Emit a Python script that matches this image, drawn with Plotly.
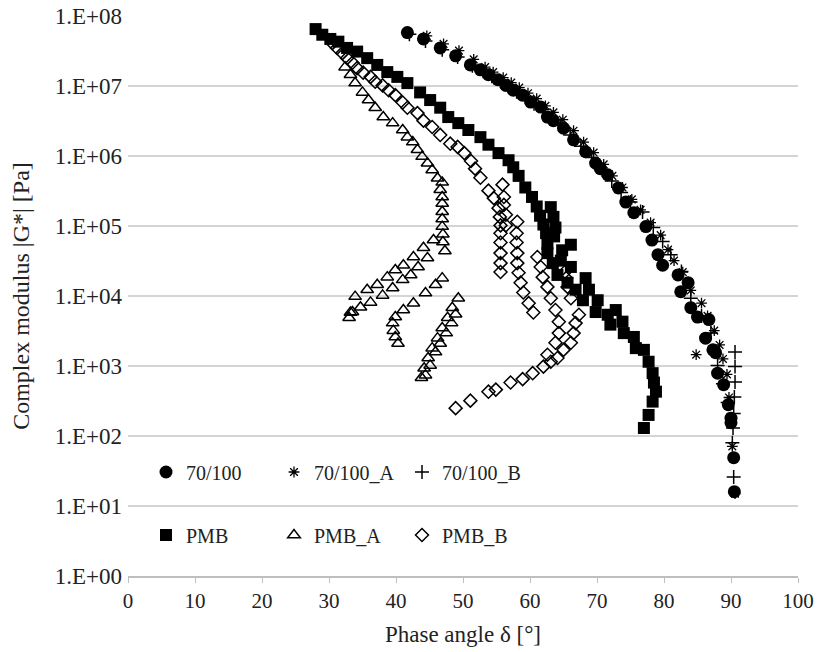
import plotly.graph_objects as go

# ---------------- data (phase angle in degrees, |G*| in Pa) ----------------
b70_x = [41.7, 44.1, 46.6, 48.9, 51.1, 52.6, 53.8, 55.2, 56.4, 57.5, 58.9, 60.1, 61.6, 62.6, 63.5,
         65.0, 66.5, 68.3, 69.8, 70.5, 71.6, 73.2, 74.3, 75.5, 77.3, 78.2, 79.1, 79.8, 82.1, 83.6,
         82.5, 84.0, 85.0, 86.7, 86.2, 87.3, 87.7, 88.0, 88.9, 89.6, 90.0, 90.0, 90.4, 90.5]
b70_y = [5.8e7, 4.7e7, 3.5e7, 2.7e7, 2.0e7, 1.7e7, 1.45e7, 1.23e7, 1.02e7, 8.7e6, 7.4e6, 5.9e6, 5.0e6,
         3.6e6, 3.2e6, 2.5e6, 1.7e6, 1.15e6, 7.9e5, 6.6e5, 5.4e5, 3.5e5, 2.2e5, 1.55e5, 9.8e4, 6.3e4,
         3.9e4, 2.75e4, 2.0e4, 1.55e4, 1.15e4, 6.8e3, 5.0e3, 4.6e3, 2.5e3, 1.7e3, 1.55e3, 7.9e2, 5.4e2,
         2.8e2, 1.8e2, 1.55e2, 4.9e1, 1.6e1]

b70a_x = [44.6, 47.1, 49.4, 51.6, 53.3, 54.5, 56.0, 57.2, 58.4, 59.7, 61.0, 62.3, 63.5, 64.9, 66.5,
          68.0, 69.5, 71.0, 72.3, 73.8, 75.2, 76.5, 78.0, 79.5, 80.6, 81.5, 82.8, 84.8, 84.0, 85.6,
          86.5, 87.5, 88.3, 88.8, 89.4, 89.7, 90.0, 90.2, 90.6]
b70a_y = [5.2e7, 4.0e7, 3.2e7, 2.4e7, 1.86e7, 1.58e7, 1.32e7, 1.12e7, 9.5e6, 7.9e6, 6.6e6, 5.2e6, 4.2e6,
          3.3e6, 2.3e6, 1.58e6, 1.12e6, 7.6e5, 5.2e5, 3.55e5, 2.4e5, 1.7e5, 1.12e5, 7.4e4, 4.6e4,
          3.2e4, 2.2e4, 1.45e3, 1.2e4, 7.9e3, 5.2e3, 3.2e3, 2.0e3, 1.26e3, 7.6e2, 3.55e2, 1.8e2, 7.1e1, 1.5e1]

b70b_x = [42.0, 44.4, 46.9, 49.2, 51.4, 53.0, 54.3, 55.6, 56.8, 58.0, 59.3, 60.6, 61.9, 63.2, 64.6,
          66.0, 67.6, 69.2, 70.8, 72.2, 73.6, 75.0, 76.8, 78.4, 79.8, 81.0, 82.6, 84.0, 85.6, 87.0,
          88.0, 88.8, 89.5, 90.6, 90.6, 90.6, 90.5, 90.4, 90.3, 90.2, 90.4]
b70b_y = [5.5e7, 4.4e7, 3.3e7, 2.6e7, 1.95e7, 1.62e7, 1.38e7, 1.17e7, 1.0e7, 8.3e6, 6.9e6, 5.6e6, 4.6e6,
          3.55e6, 2.75e6, 2.0e6, 1.38e6, 9.5e5, 6.3e5, 4.4e5, 3.0e5, 2.2e5, 1.58e5, 9.5e4, 6.0e4, 3.9e4,
          2.24e4, 9.3e3, 5.2e3, 2.95e3, 1.02e3, 5.6e2, 3.0e2, 1.58e3, 9.8e2, 5.9e2, 3.6e2, 2.1e2, 1.3e2,
          80, 26]

pmb_x = [28.0, 29.0, 30.2, 31.4, 32.7, 34.2, 35.7, 37.2, 38.7, 40.2, 41.7, 43.6, 45.1, 46.6, 47.8,
         49.3, 50.8, 52.6, 53.8, 55.3, 56.8, 57.5, 58.3, 59.3, 60.3, 61.0, 61.5, 62.0, 62.4, 62.6,
         62.6, 63.1, 63.5, 63.8, 63.6, 63.4, 64.1, 64.6, 64.8, 66.1, 66.1, 65.6, 66.8, 68.3, 68.8,
         67.9, 70.1, 69.8, 71.6, 72.8, 72.0, 73.8, 74.0, 75.5, 75.8, 77.0, 77.7, 78.3, 78.5, 78.8,
         78.3, 77.7, 77.0]
pmb_y = [6.5e7, 5.4e7, 4.7e7, 4.3e7, 3.5e7, 3.1e7, 2.5e7, 2.0e7, 1.58e7, 1.35e7, 1.1e7, 8.1e6, 6.3e6,
         4.9e6, 3.6e6, 2.95e6, 2.35e6, 1.86e6, 1.45e6, 1.1e6, 8.7e5, 6.9e5, 5.2e5, 3.55e5, 2.6e5,
         1.9e5, 1.4e5, 1.05e5, 7.9e4, 5.6e4, 4.1e4, 1.86e5, 1.35e5, 9.5e4, 7.1e4, 2.95e4, 2.0e4, 3.2e4,
         4.5e4, 5.4e4, 2.6e4, 1.55e4, 1.23e4, 1.8e4, 1.23e4, 8.7e3, 8.7e3, 5.9e3, 5.4e3, 6.3e3, 3.9e3,
         4.3e3, 2.95e3, 2.6e3, 1.8e3, 1.7e3, 1.15e3, 7.9e2, 5.8e2, 4.3e2, 3.1e2, 2.0e2, 1.3e2]

pmba_x = [32.4, 33.2, 33.9, 35.0, 35.9, 36.9, 38.1, 39.5, 41.0, 41.7, 42.5, 43.2, 43.9, 44.7, 45.4,
          46.2, 46.9, 46.6, 46.9, 46.9, 46.9, 46.9, 46.9, 47.0, 47.0, 47.3,
          45.6, 44.1, 42.6, 41.1, 39.9, 38.7, 37.2, 35.7, 33.9, 33.2,
          44.7, 43.3, 42.2, 41.0, 39.5, 38.0, 36.2, 34.7, 33.5, 33.0,
          46.9, 45.9, 44.4, 42.6, 41.1, 39.9, 39.5, 39.6, 39.9, 40.3,
          43.8, 44.2, 44.8, 45.4, 46.2, 46.9, 47.7, 48.4, 49.3,
          44.4, 45.1, 45.9, 46.6, 47.5, 48.3, 48.9]
pmba_y = [1.86e7, 1.45e7, 1.1e7, 8.1e6, 6.3e6, 4.9e6, 3.6e6, 2.95e6, 2.35e6, 1.86e6, 1.58e6, 1.23e6,
          9.8e5, 7.9e5, 6.3e5, 4.8e5, 4.2e5, 3.3e5, 2.6e5, 2.1e5, 1.6e5, 1.26e5, 9.8e4, 7.6e4, 5.9e4, 4.4e4,
          6.3e4, 4.9e4, 3.6e4, 2.75e4, 2.35e4, 1.86e4, 1.45e4, 1.23e4, 9.8e3, 5.8e3,
          3.5e4, 2.6e4, 2.0e4, 1.7e4, 1.3e4, 1.02e4, 8.1e3, 6.9e3, 5.9e3, 4.9e3,
          1.8e4, 1.45e4, 1.1e4, 7.9e3, 6.3e3, 5.0e3, 4.1e3, 3.2e3, 2.6e3, 2.1e3,
          6.8e2, 9.3e2, 1.3e3, 1.8e3, 2.5e3, 3.5e3, 4.9e3, 6.8e3, 9.3e3,
          7.4e2, 1.02e3, 1.58e3, 2.1e3, 2.95e3, 4.1e3, 5.5e3]

pmbb_x = [30.5, 31.2, 32.0, 32.7, 33.5, 34.2, 35.1, 36.2, 36.9, 38.0, 38.9, 39.9, 41.0, 41.7, 43.2,
          44.1, 45.4, 46.6, 48.1, 49.2, 50.2, 51.2, 51.8, 52.6, 53.8, 54.6, 55.3,
          55.5, 55.6, 55.6, 55.6, 55.6, 55.6, 55.6, 55.9, 56.1, 56.1, 56.4, 56.4,
          58.1, 58.0, 58.0, 58.1, 58.1, 58.3, 58.6, 59.0, 59.8, 60.5,
          61.1, 61.6, 61.9, 62.6, 63.1, 63.8, 64.3, 64.3, 63.8, 62.6, 62.0, 60.4, 58.9, 57.1, 54.9,
          53.8, 51.1, 48.9,
          65.2, 65.4, 65.6, 66.1, 67.3, 66.8, 66.5, 66.1, 65.0, 64.1, 63.1]
pmbb_y = [4.1e7, 3.5e7, 2.95e7, 2.5e7, 2.15e7, 1.8e7, 1.55e7, 1.35e7, 1.15e7, 1.02e7, 8.7e6, 7.4e6,
          5.8e6, 4.9e6, 4.1e6, 3.2e6, 2.6e6, 2.0e6, 1.5e6, 1.35e6, 1.1e6, 8.5e5, 6.6e5, 4.9e5, 3.2e5,
          2.5e5, 1.8e5,
          1.35e5, 1.02e5, 7.9e4, 5.8e4, 4.1e4, 2.95e4, 2.2e4, 3.9e5, 2.6e5, 2.0e5, 1.45e5, 1.02e5,
          1.15e5, 7.9e4, 5.8e4, 4.1e4, 2.95e4, 2.15e4, 1.55e4, 1.12e4, 7.9e3, 5.8e3,
          3.6e4, 2.6e4, 1.86e4, 1.35e4, 9.3e3, 6.3e3, 4.3e3, 2.95e3, 2.15e3, 1.45e3, 9.8e2, 7.9e2,
          6.5e2, 5.8e2, 4.6e2, 4.3e2, 3.2e2, 2.5e2,
          2.2e4, 1.8e4, 1.35e4, 9.3e3, 5.4e3, 4.1e3, 2.95e3, 2.15e3, 1.7e3, 1.3e3, 1.15e3]

x_ticks = [0, 10, 20, 30, 40, 50, 60, 70, 80, 90, 100]
y_tickvals = [1e0, 1e1, 1e2, 1e3, 1e4, 1e5, 1e6, 1e7, 1e8]
y_ticktext = ["1.E+00", "1.E+01", "1.E+02", "1.E+03", "1.E+04", "1.E+05", "1.E+06", "1.E+07", "1.E+08"]

FONT = "Liberation Serif, Times New Roman, serif"
TXT = "#222"

series = [
    ("70/100", b70_x, b70_y, dict(symbol="circle", size=13, color="black"), "legend"),
    ("70/100_A", b70a_x, b70a_y, dict(symbol="asterisk-open", size=9, color="black",
                                       line=dict(color="black", width=1.3)), "legend"),
    ("70/100_B", b70b_x, b70b_y, dict(symbol="cross-thin-open", size=10, color="black",
                                       line=dict(color="black", width=1.5)), "legend"),
    ("PMB", pmb_x, pmb_y, dict(symbol="square", size=12, color="black"), "legend2"),
    ("PMB_A", pmba_x, pmba_y, dict(symbol="triangle-up-open", size=11, color="black",
                                    line=dict(color="black", width=1.5)), "legend2"),
    ("PMB_B", pmbb_x, pmbb_y, dict(symbol="diamond-open", size=10, color="black",
                                    line=dict(color="black", width=1.5)), "legend2"),
]

fig = go.Figure()
for name, xs, ys, mk, lg in series:
    fig.add_trace(go.Scatter(x=xs, y=ys, mode="markers", name=name, marker=mk, legend=lg,
                             cliponaxis=False))

# the page body margin is removed (see post_script), so the figure fills the window
W, H = 829, 652
L, R, T, B = 128, 31, 16, 76
pw, ph = W - L - R, H - T - B

def px_to_paper_x(p):
    return (p - L) / pw

def px_to_paper_y(p):
    return (H - B - p) / ph

legend_common = dict(
    orientation="h", bgcolor="rgba(0,0,0,0)", borderwidth=0,
    font=dict(family=FONT, size=20, color=TXT),
    entrywidth=83, entrywidthmode="pixels", itemwidth=30,
    xanchor="left", yanchor="middle", tracegroupgap=0,
)

fig.update_layout(
    width=W, height=H,
    margin=dict(l=L, r=R, t=T, b=B, autoexpand=False),
    paper_bgcolor="white", plot_bgcolor="white",
    font=dict(family=FONT, size=20, color=TXT),
    legend=dict(**legend_common, x=px_to_paper_x(146), y=px_to_paper_y(472)),
    legend2=dict(**legend_common, x=px_to_paper_x(146), y=px_to_paper_y(535)),
    xaxis=dict(
        range=[0, 100], tickvals=x_ticks, showgrid=False, zeroline=False, automargin=False,
        showline=True, linecolor="#bfbfbf", linewidth=1.5,
        ticks="outside", ticklen=5, tickcolor="#bfbfbf",
        tickfont=dict(family=FONT, size=21, color=TXT),
        title=dict(text="Phase angle δ [°]", font=dict(family=FONT, size=23, color=TXT), standoff=14),
    ),
    yaxis=dict(
        type="log", range=[0, 8], tickvals=y_tickvals, ticktext=y_ticktext, automargin=False,
        showgrid=True, gridcolor="#d4d4d4", gridwidth=1.5, zeroline=False,
        showline=False, ticks="", ticklabeloverflow="allow", ticklabelstandoff=5,
        tickfont=dict(family=FONT, size=23, color=TXT),
        title=dict(text="Complex modulus |G*| [Pa]", font=dict(family=FONT, size=24, color=TXT), standoff=18),
    ),
    shapes=[dict(type="rect", xref="paper", yref="paper", layer="between",
                 x0=px_to_paper_x(148), x1=px_to_paper_x(540),
                 y0=px_to_paper_y(455), y1=px_to_paper_y(555),
                 fillcolor="white", line=dict(width=0))],
)

fig.write_html("out.html",
               config={"displayModeBar": False},
               post_script="document.body.style.margin='0';document.body.style.overflow='hidden';")
